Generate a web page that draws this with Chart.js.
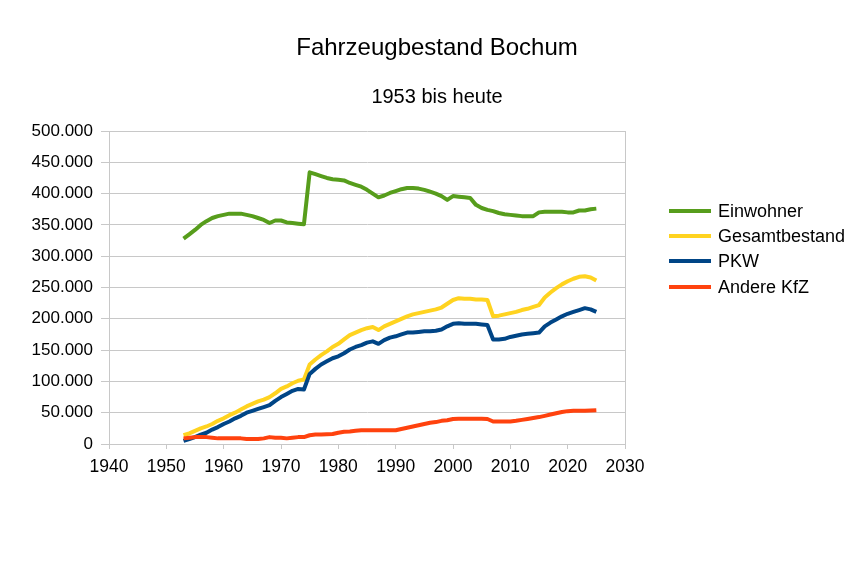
<!DOCTYPE html>
<html>
<head>
<meta charset="utf-8">
<script src="https://cdn.jsdelivr.net/npm/chart.js@4.4.1/dist/chart.umd.min.js"></script>
<style>
    body { margin: 0; background: #fff; }
    #wrap { position: relative; width: 864px; height: 576px; font-family: "Liberation Sans", Arial, sans-serif; color: #000; }
    #chart { position: absolute; left: 0; top: 0; }
    .title { position: absolute; left: 0; width: 874px; text-align: center; line-height: 1.2; white-space: nowrap; }
    #legend { position: absolute; left: 669px; top: 198px; }
    .legend-row { display: flex; align-items: center; height: 25.3px; }
    .legend-line { width: 42px; height: 4px; margin-right: 7px; }
    .legend-text { font-size: 18px; line-height: 1; white-space: nowrap; }
</style>
</head>
<body>
<div id="wrap">
    <canvas id="chart" width="864" height="576"></canvas>
    <div class="title" style="top: 33px; font-size: 24px;">Fahrzeugbestand Bochum</div>
    <div class="title" style="top: 84px; font-size: 20px;">1953 bis heute</div>
    <div id="legend"></div>
</div>
<script>
const years = [
    1953, 1954, 1955, 1956, 1957, 1958, 1959, 1960, 1961, 1962,
    1963, 1964, 1965, 1966, 1967, 1968, 1969, 1970, 1971, 1972,
    1973, 1974, 1975, 1976, 1977, 1978, 1979, 1980, 1981, 1982,
    1983, 1984, 1985, 1986, 1987, 1988, 1989, 1990, 1991, 1992,
    1993, 1994, 1995, 1996, 1997, 1998, 1999, 2000, 2001, 2002,
    2003, 2004, 2005, 2006, 2007, 2008, 2009, 2010, 2011, 2012,
    2013, 2014, 2015, 2016, 2017, 2018, 2019, 2020, 2021, 2022,
    2023, 2024, 2025
];

const einwohner = [
    328000, 335000, 342000, 350000, 356000, 361000, 364000, 366000, 368000, 368000,
    368000, 366000, 364000, 361000, 358000, 353000, 357000, 357000, 354000, 353000,
    352000, 351000, 434000, 431000, 428000, 425000, 423000, 422000, 421000, 417000,
    414000, 411000, 406000, 400000, 394000, 397000, 401000, 404000, 407000, 409000,
    409000, 408000, 406000, 403000, 400000, 396000, 390000, 396000, 395000, 394000,
    393000, 382000, 377000, 374000, 372000, 369000, 367000, 366000, 365000, 364000,
    364000, 364000, 370000, 371000, 371000, 371000, 371000, 370000, 370000, 373000,
    373000, 375000, 376000
];

const gesamtbestand = [
    14000, 17000, 21000, 25000, 28000, 32000, 37000, 41000, 46000, 50000,
    55000, 60000, 64000, 68000, 71000, 75000, 81000, 88000, 92000, 97000,
    101000, 103000, 127000, 135000, 142000, 148000, 155000, 160000, 167000, 174000,
    178000, 182000, 185000, 187000, 182000, 188000, 192000, 196000, 200000, 204000,
    207000, 209000, 211000, 213000, 215000, 218000, 224000, 230000, 233000, 232000,
    232000, 231000, 231000, 230000, 204000, 205000, 207000, 209000, 211000, 214000,
    216000, 219000, 222000, 234000, 242000, 249000, 255000, 260000, 264000, 267000,
    268000, 266000, 261000
];

const pkw = [
    5000, 8000, 11000, 15000, 18000, 23000, 27000, 32000, 36000, 41000,
    45000, 50000, 53000, 56000, 59000, 62000, 69000, 75000, 80000, 85000,
    88000, 87000, 112000, 120000, 127000, 132000, 137000, 140000, 145000, 151000,
    155000, 158000, 162000, 164000, 160000, 166000, 170000, 172000, 175000, 178000,
    178000, 179000, 180000, 180000, 181000, 183000, 188000, 192000, 193000, 192000,
    192000, 192000, 191000, 190000, 167000, 167000, 168000, 171000, 173000, 175000,
    176000, 177000, 178000, 188000, 194000, 199000, 204000, 208000, 211000, 214000,
    217000, 215000, 211000
];

const andereKfz = [
    9000, 10000, 11000, 11000, 11000, 10000, 9000, 9000, 9000, 9000,
    9000, 8000, 8000, 8000, 9000, 11000, 10000, 10000, 9000, 10000,
    11000, 11000, 14000, 15000, 15000, 15500, 16000, 18000, 19500, 20000,
    21000, 22000, 22000, 22000, 22000, 22000, 22000, 22000, 24000, 26000,
    28000, 30000, 32000, 34000, 35000, 37000, 38000, 40000, 40500, 40500,
    40500, 40500, 40500, 40000, 36000, 36000, 36000, 36000, 37000, 38500,
    40000, 41500, 43000, 45000, 47000, 49000, 51000, 52500, 53000, 53000,
    53000, 53500, 54000
];

const seriesNames = ['Einwohner', 'Gesamtbestand', 'PKW', 'Andere KfZ'];
const seriesColors = ['#579d1c', '#ffd320', '#004586', '#ff420e'];
const seriesValues = [einwohner, gesamtbestand, pkw, andereKfz];

const gridColor = '#c8c8c8';
const fontFamily = '"Liberation Sans", Arial, sans-serif';

function formatThousands(value) {
    return String(value).replace(/\B(?=(\d{3})+(?!\d))/g, '.');
}

const datasets = seriesNames.map((name, i) => ({
    label: name,
    data: years.map((year, j) => ({ x: year, y: seriesValues[i][j] })),
    borderColor: seriesColors[i],
    backgroundColor: seriesColors[i],
    borderWidth: 4,
    borderJoinStyle: 'round',
    pointRadius: 0,
    tension: 0,
    // later series lie on top, like in the original
    order: seriesNames.length - 1 - i
}));

new Chart(document.getElementById('chart'), {
    type: 'line',
    data: { datasets: datasets },
    options: {
        responsive: false,
        animation: false,
        devicePixelRatio: 1,
        layout: {
            padding: { left: 10, top: 131, right: 239, bottom: 81 }
        },
        plugins: {
            legend: { display: false },
            title: { display: false },
            tooltip: { enabled: false }
        },
        scales: {
            x: {
                type: 'linear',
                min: 1940,
                max: 2030,
                afterFit: function (scale) {
                    scale.height = 51;
                },
                ticks: {
                    stepSize: 10,
                    color: '#000',
                    padding: 8,
                    maxRotation: 0,
                    font: { family: fontFamily, size: 17.5 },
                    callback: function (value) {
                        return String(value);
                    }
                },
                grid: {
                    color: function (context) {
                        const v = context.tick ? context.tick.value : null;
                        return (v === 1940 || v === 2030) ? gridColor : 'rgba(0,0,0,0)';
                    },
                    tickColor: gridColor,
                    tickLength: 5
                },
                border: { display: true, color: gridColor }
            },
            y: {
                min: 0,
                max: 500000,
                afterFit: function (scale) {
                    scale.width = 99;
                },
                ticks: {
                    stepSize: 50000,
                    color: '#000',
                    padding: 8,
                    font: { family: fontFamily, size: 17 },
                    callback: function (value) {
                        return formatThousands(value);
                    }
                },
                grid: {
                    color: gridColor,
                    tickColor: gridColor,
                    tickLength: 8
                },
                border: { display: true, color: gridColor }
            }
        }
    }
});

const legend = document.getElementById('legend');
seriesNames.forEach((name, i) => {
    const row = document.createElement('div');
    row.className = 'legend-row';
    const line = document.createElement('span');
    line.className = 'legend-line';
    line.style.background = seriesColors[i];
    const text = document.createElement('span');
    text.className = 'legend-text';
    text.textContent = name;
    row.appendChild(line);
    row.appendChild(text);
    legend.appendChild(row);
});
</script>
</body>
</html>
